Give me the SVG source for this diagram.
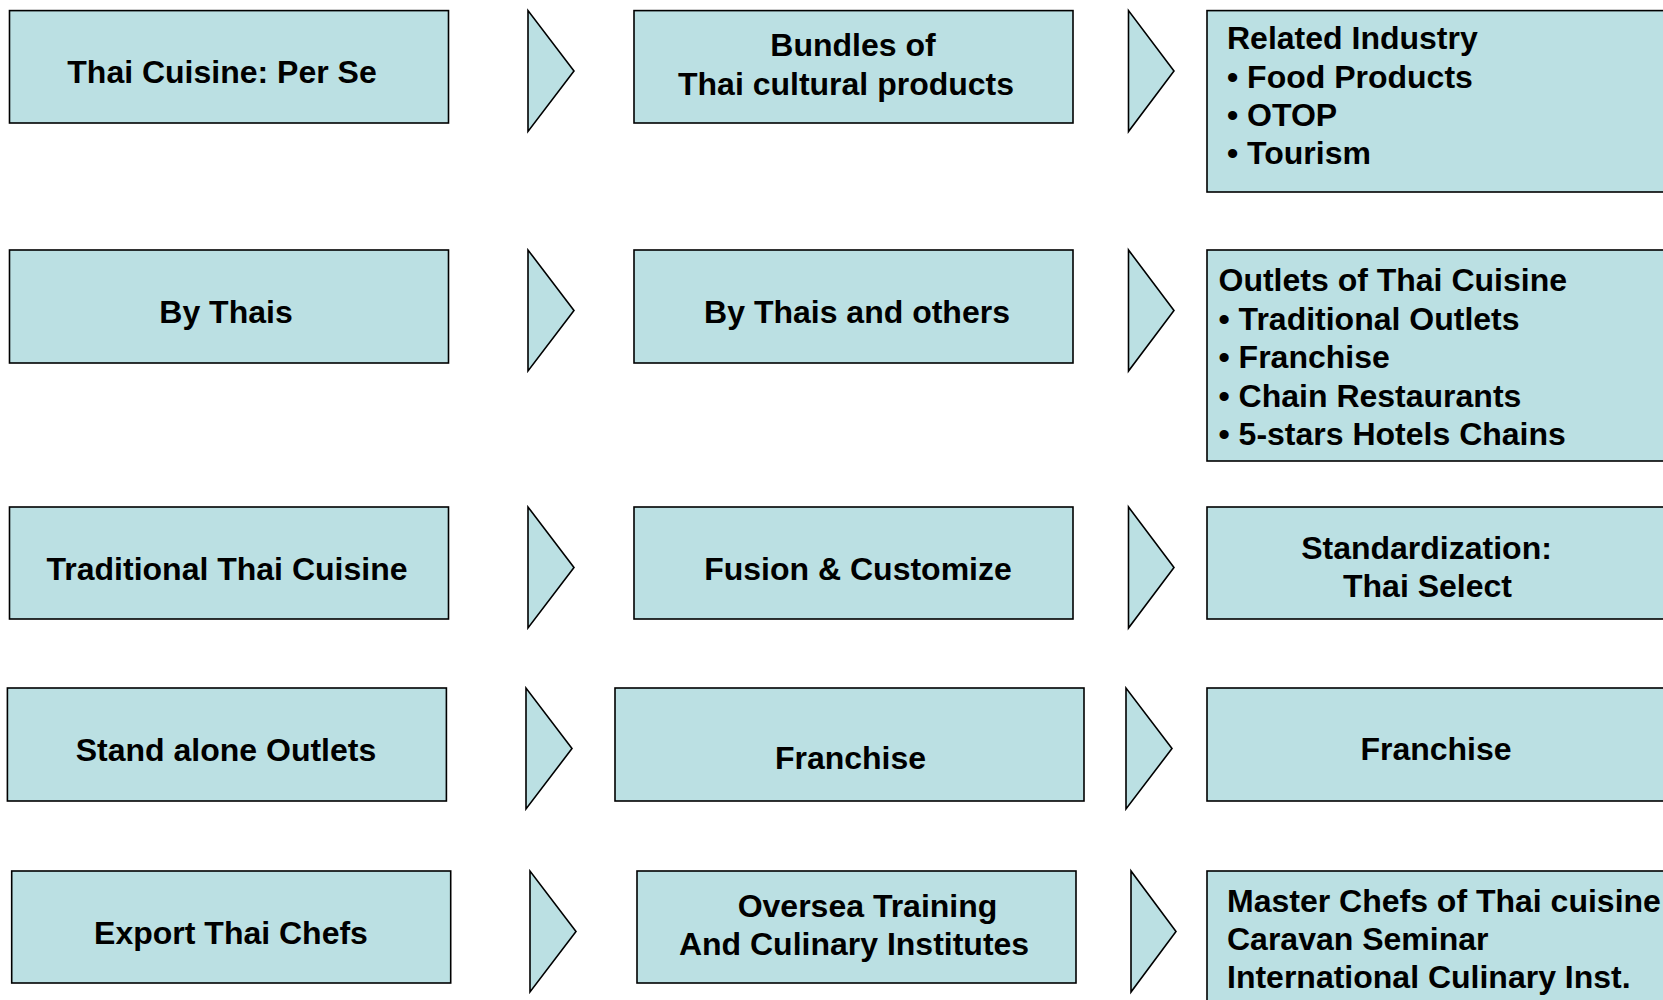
<svg xmlns="http://www.w3.org/2000/svg" width="1663" height="1000" viewBox="0 0 1663 1000">
<style>
.box{fill:#BBE0E3;stroke:#000;stroke-width:1.6}
.arr{fill:#BBE0E3;stroke:#000;stroke-width:1.6;stroke-linejoin:miter}
text{font-family:"Liberation Sans",Arial,sans-serif;font-weight:bold;font-size:32px;fill:#000}
.c{text-anchor:middle}
</style>
<rect width="1663" height="1000" fill="#fff"/>
<g id="connectors">
<polygon class="arr" points="528,10.6 528,131.5 574,71"/>
<polygon class="arr" points="1128.5,10.6 1128.5,131.5 1174,71"/>
<polygon class="arr" points="528,250 528,371 574,310.5"/>
<polygon class="arr" points="1128.5,250 1128.5,371 1174,310.5"/>
<polygon class="arr" points="528,507 528,628 574,567.5"/>
<polygon class="arr" points="1128.5,507 1128.5,628 1174,567.5"/>
<polygon class="arr" points="526,688 526,809 572,748.5"/>
<polygon class="arr" points="1126,688 1126,809 1172,748.5"/>
<polygon class="arr" points="530,871 530,992 576,931.5"/>
<polygon class="arr" points="1131,871 1131,992 1176,931.5"/>
</g>
<g id="n-r1c1"><rect class="box" x="9.5" y="10.6" width="439" height="112.4"/><text class="c" x="222" y="83">Thai Cuisine: Per Se</text></g>
<g id="n-r1c2"><rect class="box" x="634" y="10.6" width="439" height="112.4"/><text class="c" x="853" y="56">Bundles of</text><text class="c" x="846" y="94.5">Thai cultural products</text></g>
<g id="n-r1c3"><rect class="box" x="1207" y="10.6" width="480" height="181.4"/><text x="1227" y="49">Related Industry</text><text x="1227" y="87.5">• Food Products</text><text x="1227" y="125.5">• OTOP</text><text x="1227" y="164">• Tourism</text></g>
<g id="n-r2c1"><rect class="box" x="9.5" y="250" width="439" height="113"/><text class="c" x="226" y="323">By Thais</text></g>
<g id="n-r2c2"><rect class="box" x="634" y="250" width="439" height="113"/><text class="c" x="857" y="323">By Thais and others</text></g>
<g id="n-r2c3"><rect class="box" x="1207" y="250" width="480" height="211"/><text x="1218.5" y="291">Outlets of Thai Cuisine</text><text x="1218.5" y="329.5">• Traditional Outlets</text><text x="1218.5" y="368">• Franchise</text><text x="1218.5" y="406.5">• Chain Restaurants</text><text x="1218.5" y="445">• 5-stars Hotels Chains</text></g>
<g id="n-r3c1"><rect class="box" x="9.5" y="507" width="439" height="112"/><text class="c" x="227" y="580">Traditional Thai Cuisine</text></g>
<g id="n-r3c2"><rect class="box" x="634" y="507" width="439" height="112"/><text class="c" x="858" y="580">Fusion &amp; Customize</text></g>
<g id="n-r3c3"><rect class="box" x="1207" y="507" width="480" height="112"/><text class="c" x="1426.5" y="559">Standardization:</text><text class="c" x="1427.5" y="597">Thai Select</text></g>
<g id="n-r4c1"><rect class="box" x="7.4" y="688" width="439" height="113"/><text class="c" x="226" y="761">Stand alone Outlets</text></g>
<g id="n-r4c2"><rect class="box" x="615" y="688" width="469" height="113"/><text class="c" x="850.5" y="768.5">Franchise</text></g>
<g id="n-r4c3"><rect class="box" x="1207" y="688" width="480" height="113"/><text class="c" x="1436" y="760">Franchise</text></g>
<g id="n-r5c1"><rect class="box" x="11.7" y="871" width="439" height="112"/><text class="c" x="231" y="943.5">Export Thai Chefs</text></g>
<g id="n-r5c2"><rect class="box" x="637" y="871" width="439" height="112"/><text class="c" x="867.5" y="916.5">Oversea Training</text><text class="c" x="854" y="955">And Culinary Institutes</text></g>
<g id="n-r5c3"><rect class="box" x="1207" y="871" width="480" height="150"/><text x="1227" y="912">Master Chefs of Thai cuisine</text><text x="1227" y="950">Caravan Seminar</text><text x="1227" y="988">International Culinary Inst.</text></g>
</svg>
